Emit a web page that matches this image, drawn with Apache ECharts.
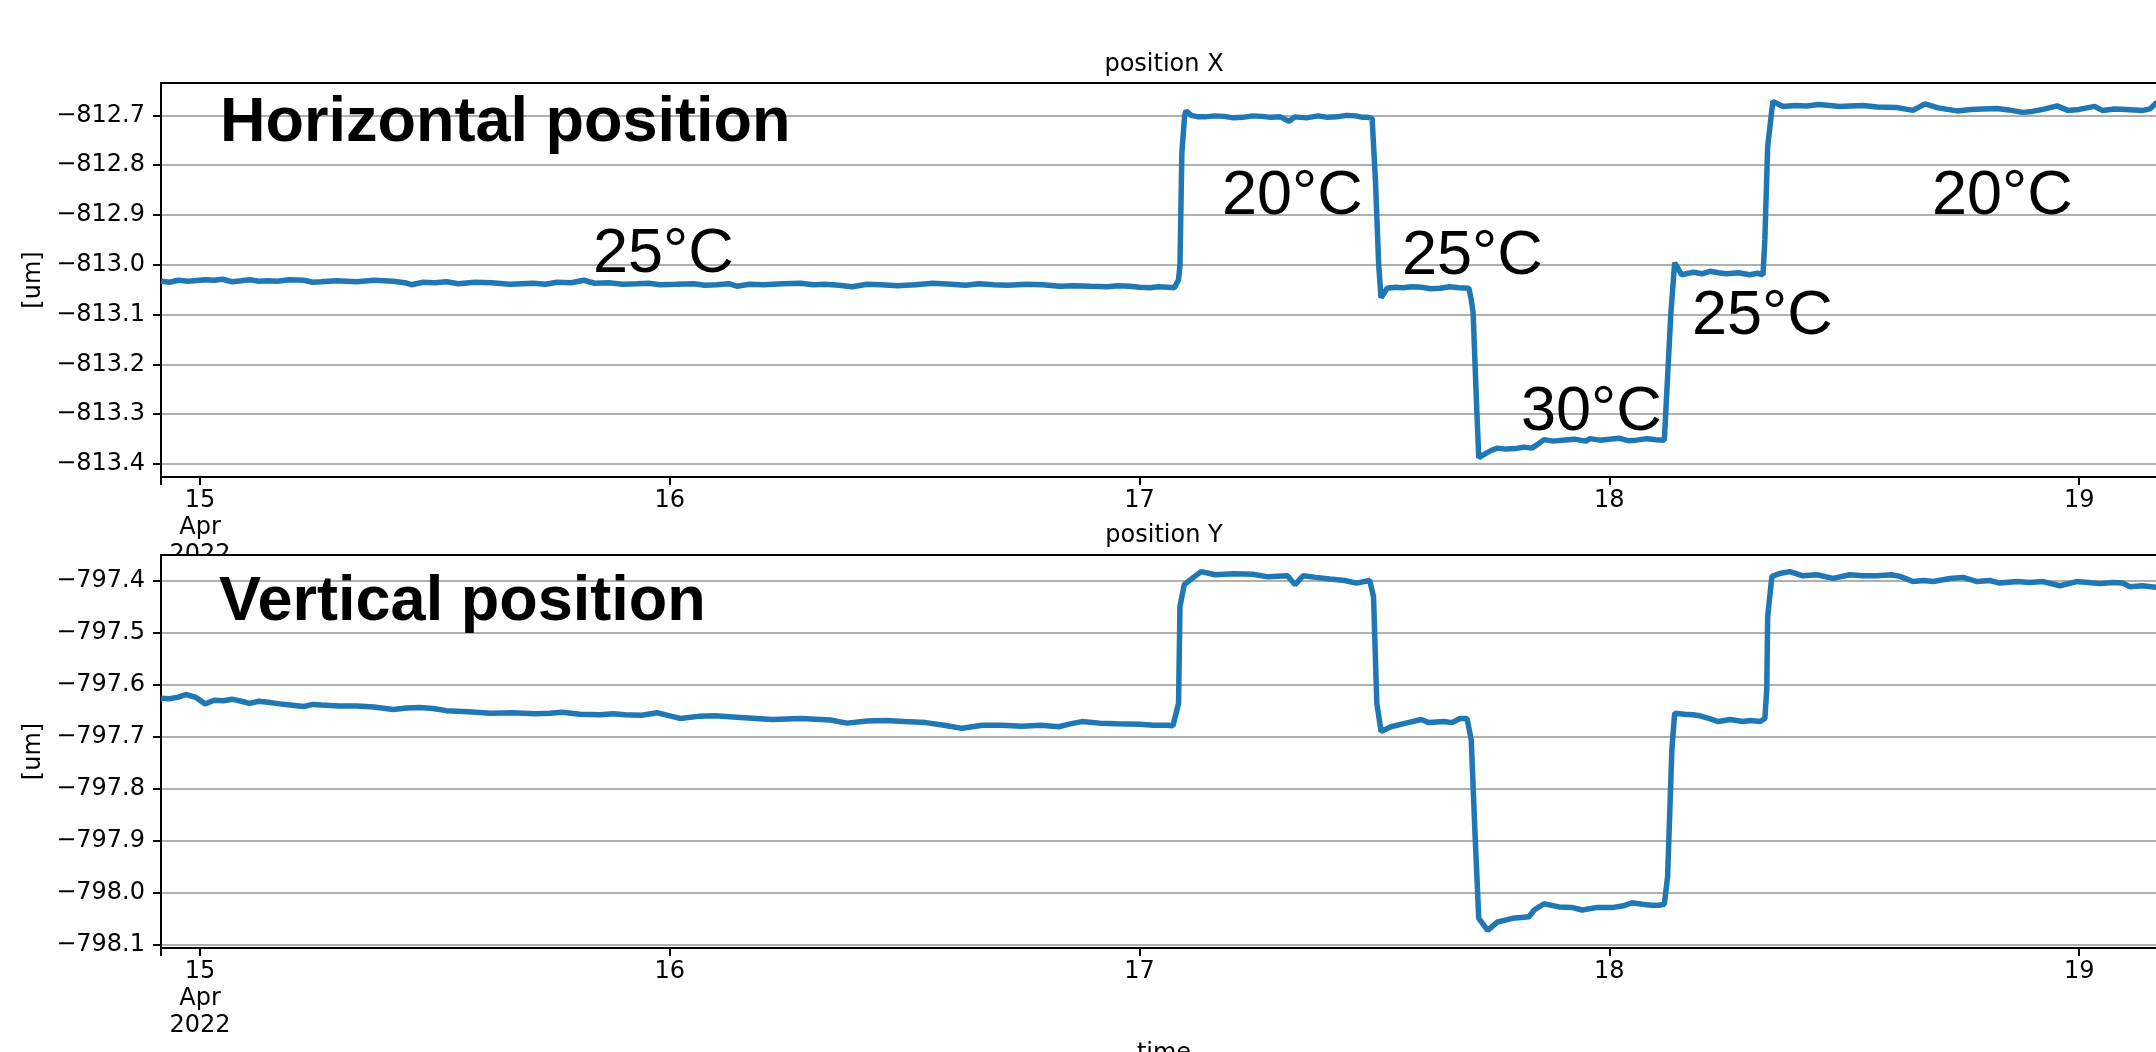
<!DOCTYPE html>
<html>
<head>
<meta charset="utf-8">
<style>
html,body{margin:0;padding:0;background:#fff;}
#chart{width:2156px;height:1052px;}
</style>
<script src="https://cdn.jsdelivr.net/npm/echarts@6/dist/echarts.min.js"></script>
</head>
<body>
<div id="chart"></div>
<script>
// ---- data (x = day of April 2022, fractional) ----
const dayTicks = [15, 16, 17, 18, 19];
const dayTickLabels = ['15\nApr\n2022', '16', '17', '18', '19'];
const xRangeDays = [14.917, 19.187];

const posXTicks = [-813.4, -813.3, -813.2, -813.1, -813.0, -812.9, -812.8, -812.7];
const posYTicks = [-798.1, -798.0, -797.9, -797.8, -797.7, -797.6, -797.5, -797.4];
const posXRange = [-813.426, -812.635];
const posYRange = [-798.106, -797.351];

const posXData = [
  [14.917,-813.033],[14.935,-813.035],[14.954,-813.031],[14.975,-813.033],[15.011,-813.030],
  [15.030,-813.031],[15.048,-813.029],[15.068,-813.034],[15.088,-813.032],[15.106,-813.030],
  [15.125,-813.033],[15.145,-813.032],[15.165,-813.033],[15.190,-813.030],[15.221,-813.031],
  [15.240,-813.035],[15.258,-813.034],[15.290,-813.032],[15.334,-813.034],[15.370,-813.031],
  [15.411,-813.033],[15.436,-813.036],[15.450,-813.040],[15.475,-813.035],[15.500,-813.036],
  [15.525,-813.034],[15.550,-813.038],[15.585,-813.035],[15.620,-813.036],[15.660,-813.039],
  [15.709,-813.037],[15.735,-813.039],[15.760,-813.035],[15.790,-813.036],[15.817,-813.031],
  [15.840,-813.037],[15.870,-813.036],[15.900,-813.039],[15.930,-813.038],[15.955,-813.037],
  [15.979,-813.040],[16.015,-813.039],[16.050,-813.038],[16.075,-813.041],[16.100,-813.040],
  [16.125,-813.038],[16.143,-813.043],[16.170,-813.039],[16.200,-813.040],[16.240,-813.038],
  [16.279,-813.037],[16.305,-813.040],[16.330,-813.039],[16.360,-813.041],[16.388,-813.044],
  [16.420,-813.039],[16.450,-813.040],[16.485,-813.042],[16.522,-813.040],[16.560,-813.037],
  [16.600,-813.039],[16.630,-813.041],[16.658,-813.038],[16.690,-813.040],[16.720,-813.041],
  [16.760,-813.039],[16.794,-813.040],[16.830,-813.043],[16.860,-813.042],[16.895,-813.043],
  [16.931,-813.044],[16.955,-813.042],[16.980,-813.043],[17.000,-813.045],[17.022,-813.046],
  [17.040,-813.044],[17.060,-813.045],[17.074,-813.046],[17.083,-813.030],[17.086,-813.000],
  [17.090,-812.775],[17.096,-812.700],[17.099,-812.691],[17.110,-812.700],[17.125,-812.703],
  [17.140,-812.703],[17.160,-812.701],[17.180,-812.702],[17.200,-812.705],[17.220,-812.704],
  [17.240,-812.701],[17.260,-812.702],[17.280,-812.704],[17.300,-812.703],[17.318,-812.712],
  [17.330,-812.703],[17.355,-812.705],[17.380,-812.701],[17.400,-812.704],[17.420,-812.703],
  [17.440,-812.700],[17.460,-812.701],[17.475,-812.704],[17.486,-812.704],[17.495,-812.706],
  [17.502,-812.829],[17.509,-813.000],[17.514,-813.066],[17.527,-813.047],[17.545,-813.045],
  [17.560,-813.046],[17.580,-813.044],[17.600,-813.045],[17.620,-813.048],[17.640,-813.047],
  [17.660,-813.044],[17.680,-813.046],[17.701,-813.047],[17.706,-813.070],[17.710,-813.096],
  [17.718,-813.297],[17.722,-813.387],[17.738,-813.378],[17.750,-813.372],[17.762,-813.368],
  [17.780,-813.370],[17.800,-813.369],[17.818,-813.366],[17.835,-813.368],[17.848,-813.360],
  [17.861,-813.351],[17.880,-813.354],[17.900,-813.352],[17.925,-813.350],[17.950,-813.354],
  [17.959,-813.349],[17.980,-813.352],[18.000,-813.350],[18.020,-813.348],[18.040,-813.353],
  [18.057,-813.352],[18.080,-813.349],[18.100,-813.351],[18.117,-813.352],[18.120,-813.297],
  [18.131,-813.096],[18.139,-812.996],[18.154,-813.020],[18.168,-813.017],[18.180,-813.015],
  [18.197,-813.018],[18.214,-813.013],[18.232,-813.016],[18.250,-813.018],[18.275,-813.016],
  [18.299,-813.020],[18.315,-813.017],[18.327,-813.020],[18.331,-812.950],[18.337,-812.762],
  [18.348,-812.672],[18.370,-812.682],[18.395,-812.680],[18.420,-812.681],[18.445,-812.678],
  [18.470,-812.680],[18.490,-812.682],[18.512,-812.681],[18.540,-812.680],[18.570,-812.683],
  [18.610,-812.684],[18.646,-812.690],[18.672,-812.677],[18.700,-812.685],[18.720,-812.688],
  [18.740,-812.691],[18.770,-812.688],[18.795,-812.687],[18.825,-812.686],[18.850,-812.689],
  [18.880,-812.694],[18.900,-812.692],[18.923,-812.688],[18.953,-812.681],[18.976,-812.690],
  [19.000,-812.688],[19.033,-812.682],[19.049,-812.690],[19.075,-812.687],[19.100,-812.688],
  [19.136,-812.690],[19.151,-812.687],[19.164,-812.675],[19.187,-812.670]
];

const posYData = [
  [14.917,-797.626],[14.935,-797.627],[14.954,-797.624],[14.970,-797.619],[14.990,-797.624],
  [15.011,-797.637],[15.030,-797.630],[15.050,-797.631],[15.068,-797.628],[15.088,-797.632],
  [15.106,-797.636],[15.125,-797.632],[15.145,-797.634],[15.170,-797.637],[15.192,-797.639],
  [15.221,-797.642],[15.240,-797.638],[15.258,-797.639],[15.295,-797.641],[15.334,-797.641],
  [15.370,-797.643],[15.411,-797.648],[15.440,-797.645],[15.468,-797.644],[15.496,-797.646],
  [15.524,-797.650],[15.570,-797.652],[15.619,-797.655],[15.665,-797.654],[15.715,-797.656],
  [15.745,-797.655],[15.771,-797.653],[15.809,-797.657],[15.851,-797.658],[15.880,-797.656],
  [15.905,-797.658],[15.940,-797.659],[15.973,-797.654],[16.000,-797.660],[16.022,-797.665],
  [16.060,-797.661],[16.096,-797.660],[16.150,-797.663],[16.218,-797.667],[16.280,-797.665],
  [16.341,-797.668],[16.377,-797.674],[16.420,-797.670],[16.460,-797.669],[16.499,-797.671],
  [16.545,-797.673],[16.584,-797.678],[16.622,-797.684],[16.665,-797.678],[16.707,-797.678],
  [16.750,-797.680],[16.790,-797.678],[16.828,-797.681],[16.850,-797.676],[16.877,-797.671],
  [16.915,-797.674],[16.952,-797.675],[17.000,-797.676],[17.030,-797.678],[17.060,-797.678],
  [17.071,-797.679],[17.083,-797.636],[17.086,-797.450],[17.095,-797.408],[17.112,-797.396],
  [17.131,-797.383],[17.161,-797.389],[17.200,-797.387],[17.241,-797.388],[17.273,-797.393],
  [17.315,-797.391],[17.331,-797.408],[17.348,-797.391],[17.375,-797.394],[17.405,-797.397],
  [17.437,-797.400],[17.461,-797.405],[17.490,-797.400],[17.498,-797.431],[17.505,-797.636],
  [17.514,-797.690],[17.535,-797.681],[17.567,-797.674],[17.599,-797.667],[17.616,-797.673],
  [17.648,-797.671],[17.665,-797.673],[17.682,-797.665],[17.697,-797.665],[17.706,-797.706],
  [17.714,-797.886],[17.722,-798.049],[17.741,-798.072],[17.762,-798.056],[17.794,-798.049],
  [17.829,-798.046],[17.840,-798.033],[17.861,-798.021],[17.893,-798.027],[17.920,-798.028],
  [17.942,-798.033],[17.975,-798.028],[18.008,-798.028],[18.030,-798.025],[18.048,-798.019],
  [18.070,-798.022],[18.089,-798.024],[18.106,-798.024],[18.117,-798.022],[18.124,-797.969],
  [18.133,-797.726],[18.139,-797.655],[18.160,-797.657],[18.178,-797.658],[18.193,-797.660],
  [18.215,-797.666],[18.232,-797.671],[18.257,-797.667],[18.284,-797.671],[18.300,-797.669],
  [18.321,-797.671],[18.331,-797.665],[18.335,-797.610],[18.337,-797.469],[18.346,-797.392],
  [18.365,-797.386],[18.384,-797.383],[18.412,-797.391],[18.442,-797.389],[18.476,-797.396],
  [18.512,-797.389],[18.540,-797.391],[18.570,-797.391],[18.600,-797.389],[18.619,-797.392],
  [18.646,-797.402],[18.670,-797.400],[18.689,-797.402],[18.725,-797.396],[18.753,-797.394],
  [18.783,-797.402],[18.810,-797.400],[18.831,-797.405],[18.868,-797.402],[18.895,-797.404],
  [18.923,-797.402],[18.959,-797.410],[18.995,-797.402],[19.020,-797.404],[19.044,-797.406],
  [19.070,-797.404],[19.093,-797.405],[19.108,-797.412],[19.135,-797.410],[19.164,-797.413],
  [19.187,-797.414]
];

// annotation texts (left edge / baseline, px)
const annotations = [
  {text: 'Horizontal position', bold: true, x: 220, y: 146},
  {text: 'Vertical position', bold: true, x: 219, y: 625},
  {text: '25°C', x: 593, y: 277},
  {text: '20°C', x: 1222, y: 219},
  {text: '25°C', x: 1402, y: 279},
  {text: '30°C', x: 1521, y: 435},
  {text: '25°C', x: 1692, y: 339},
  {text: '20°C', x: 1932, y: 219}
];

// ---- chart ----
const FONT = 'DejaVu Sans';
const chart = echarts.init(document.getElementById('chart'), null, {renderer: 'canvas'});
const fmtY = v => (v < 0 ? '\u2212' : '') + Math.abs(v).toFixed(1);
const fmtX = v => {
  const i = dayTicks.findIndex(d => Math.abs(d - v) < 1e-6);
  return i >= 0 ? dayTickLabels[i] : '';
};

function xAxisDef(gridIndex, z, withName) {
  return {
    type: 'value', gridIndex, z,
    min: xRangeDays[0], max: xRangeDays[1],
    axisLine: {show: true, onZero: false, lineStyle: {color: '#000', width: 2}},
    axisTick: {show: true, length: 8, lineStyle: {color: '#000', width: 2},
               customValues: [xRangeDays[0]].concat(dayTicks)},
    axisLabel: {customValues: dayTicks, formatter: fmtX, color: '#000',
                fontFamily: FONT, fontSize: 24, lineHeight: 27, margin: 10},
    splitLine: {show: false},
    name: withName ? 'time' : '',
    nameLocation: 'middle', nameGap: 94,
    nameTextStyle: {fontFamily: FONT, fontSize: 24, color: '#000', verticalAlign: 'top'}
  };
}
function yAxisDef(gridIndex, z, range, ticks) {
  return {
    type: 'value', gridIndex, z,
    min: range[0], max: range[1],
    axisLine: {show: true, lineStyle: {color: '#000', width: 2}},
    axisTick: {show: true, length: 8, lineStyle: {color: '#000', width: 2}, customValues: ticks},
    axisLabel: {customValues: ticks, formatter: fmtY, color: '#000',
                fontFamily: FONT, fontSize: 24, margin: 16},
    splitLine: {show: true, lineStyle: {color: '#b0b0b0', width: 2}},
    name: '[um]', nameLocation: 'middle', nameRotate: 90, nameGap: 102,
    nameTextStyle: {fontFamily: FONT, fontSize: 24, color: '#000'}
  };
}

const graphics = annotations.map(a => ({
  type: 'text', z: 100,
  style: {
    text: a.text, x: a.x, y: a.y - 22,
    font: (a.bold ? 'bold ' : '') + '63px "Liberation Sans", Arial, sans-serif',
    fill: '#000', align: 'left', verticalAlign: 'middle'
  }
}));

chart.setOption({
  animation: false,
  backgroundColor: '#fff',
  title: [
    {text: 'position X', left: 1164, top: 53, textAlign: 'center', padding: 0,
     textStyle: {fontFamily: FONT, fontSize: 24, fontWeight: 'normal', color: '#000'}},
    {text: 'position Y', left: 1164, top: 524, textAlign: 'center', padding: 0,
     textStyle: {fontFamily: FONT, fontSize: 24, fontWeight: 'normal', color: '#000'}}
  ],
  grid: [
    {left: 161, right: -11, top: 83, height: 394, show: true, borderColor: '#000',
     borderWidth: 2, backgroundColor: '#fff', z: 0, containLabel: false, outerBoundsMode: 'none'},
    {left: 161, right: -11, top: 555, height: 393, show: true, borderColor: '#000',
     borderWidth: 2, backgroundColor: '#fff', z: 1, containLabel: false, outerBoundsMode: 'none'}
  ],
  xAxis: [xAxisDef(0, 0, false), xAxisDef(1, 2, true)],
  yAxis: [yAxisDef(0, 0, posXRange, posXTicks), yAxisDef(1, 2, posYRange, posYTicks)],
  series: [
    {type: 'line', xAxisIndex: 0, yAxisIndex: 0, data: posXData, showSymbol: false,
     lineStyle: {color: '#1f77b4', width: 5.5}, z: 2},
    {type: 'line', xAxisIndex: 1, yAxisIndex: 1, data: posYData, showSymbol: false,
     lineStyle: {color: '#1f77b4', width: 5.5}, z: 3}
  ],
  graphic: graphics
});
</script>
</body>
</html>
